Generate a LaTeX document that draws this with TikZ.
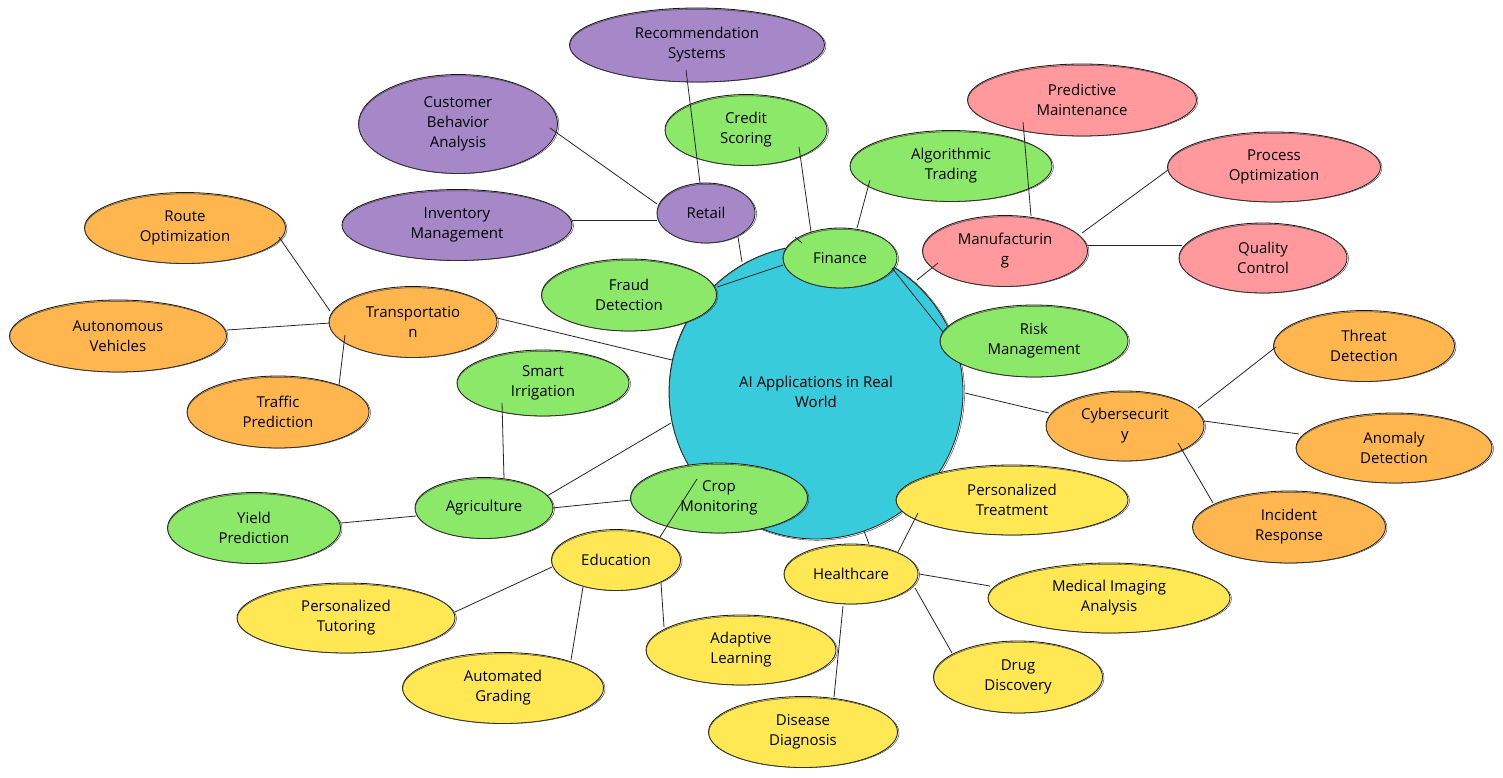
\documentclass[tikz,border=0pt]{standalone}
\usepackage{fontspec}
\setmainfont{Open Sans}
\usetikzlibrary{calc,shapes.geometric}
\definecolor{cpur}{RGB}{166,136,201}
\definecolor{cgre}{RGB}{140,232,104}
\definecolor{cpin}{RGB}{255,153,158}
\definecolor{cora}{RGB}{255,182,78}
\definecolor{cyel}{RGB}{255,232,84}
\definecolor{ccya}{RGB}{55,203,219}
\newcommand\mnode[7]{%
  \node[nd, fill=#6, minimum width=#4pt, minimum height=#5pt] (#1) at (#2,#3) {#7};
  \draw[sk] ([shift={(0.9,0.7)}]#1.center) ellipse [x radius={#4*0.5pt+0.6pt}, y radius={#5*0.5pt-0.6pt}];}
\begin{document}
\begin{tikzpicture}[x=1pt,y=-1pt,
  nd/.style={ellipse, draw=black!90, line width=0.8pt, inner sep=0pt, align=center,
             font=\fontsize{15}{20}\selectfont},
  sk/.style={draw=black!75, line width=0.45pt},
  ed/.style={draw=black!85, line width=0.8pt}]
\useasboundingbox[fill=white] (0,0) rectangle (1503,778);
% central node
\node[nd, circle, fill=ccya, minimum size=294pt] (c) at (816,392) {AI Applications in Real\\World};
\draw[sk] ([shift={(0.9,0.7)}]c.center) circle [radius=147.6pt];
% Retail
\mnode{retail}{706}{213}{98}{60}{cpur}{Retail}
\mnode{rec}{697}{45}{255}{74}{cpur}{Recommendation\\Systems}
\mnode{cust}{458}{124}{199}{99}{cpur}{Customer\\Behavior\\Analysis}
\mnode{inv}{457}{225}{230}{71}{cpur}{Inventory\\Management}
% Finance
\mnode{credit}{746}{130}{162}{71}{cgre}{Credit\\Scoring}
\mnode{algo}{951}{166}{202}{71}{cgre}{Algorithmic\\Trading}
\mnode{fraud}{629}{295}{175}{72}{cgre}{Fraud\\Detection}
\mnode{risk}{1034}{341}{188}{72}{cgre}{Risk\\Management}
\mnode{fin}{840}{258}{114}{60}{cgre}{Finance}
% Manufacturing
\mnode{manu}{1005}{251}{165}{71}{cpin}{Manufacturin\\g}
\mnode{pred}{1082}{100}{229}{72}{cpin}{Predictive\\Maintenance}
\mnode{proc}{1274}{167}{213}{70}{cpin}{Process\\Optimization}
\mnode{qual}{1263}{258}{168}{70}{cpin}{Quality\\Control}
% Transportation
\mnode{trans}{413}{322}{168}{71}{cora}{Transportatio\\n}
\mnode{route}{185}{228}{201}{71}{cora}{Route\\Optimization}
\mnode{auto}{118}{336}{217}{72}{cora}{Autonomous\\Vehicles}
\mnode{traffic}{278}{412}{182}{72}{cora}{Traffic\\Prediction}
% Cybersecurity
\mnode{cyber}{1125}{426}{158}{70}{cora}{Cybersecurit\\y}
\mnode{threat}{1364}{346}{181}{71}{cora}{Threat\\Detection}
\mnode{anom}{1394}{448}{196}{70}{cora}{Anomaly\\Detection}
\mnode{incid}{1289}{527}{193}{72}{cora}{Incident\\Response}
% Agriculture
\mnode{smart}{543}{383}{172}{66}{cgre}{Smart\\Irrigation}
\mnode{agri}{484}{508}{138}{61}{cgre}{Agriculture}
\mnode{crop}{719}{498}{177}{70}{cgre}{Crop\\Monitoring}
\mnode{yield}{254}{528}{173}{71}{cgre}{Yield\\Prediction}
% Education
\mnode{edu}{616}{560}{129}{61}{cyel}{Education}
\mnode{tutor}{346}{618}{218}{70}{cyel}{Personalized\\Tutoring}
\mnode{grade}{503}{688}{201}{71}{cyel}{Automated\\Grading}
\mnode{adapt}{741}{650}{190}{70}{cyel}{Adaptive\\Learning}
% Healthcare
\mnode{treat}{1012}{500}{232}{70}{cyel}{Personalized\\Treatment}
\mnode{health}{851}{574}{134}{60}{cyel}{Healthcare}
\mnode{med}{1109}{598}{242}{70}{cyel}{Medical Imaging\\Analysis}
\mnode{drug}{1018}{677}{169}{72}{cyel}{Drug\\Discovery}
\mnode{dis}{803}{732}{189}{71}{cyel}{Disease\\Diagnosis}
% connectors
\draw[ed] ($(rec)+(-11,25)$) -- ($(retail)+(-6,-30)$);
\draw[ed] ($(cust)+(92,4)$) -- ($(retail)+(-49,-9)$);
\draw[ed] ($(inv)+(115,-5)$) -- ($(retail)+(-49,7)$);
\draw[ed] ($(retail)+(32,24)$) -- ($(c)+(-74,-130)$);
\draw[ed] ($(credit)+(53,17)$) -- ($(fin)+(-29,-26)$);
\draw[ed] ($(algo)+(-81,14)$) -- ($(fin)+(17,-30)$);
\draw[ed] ($(fraud)+(88,-8)$) -- ($(fin)+(-57,7)$);
\draw[ed] ($(fin)+(52,10)$) -- ($(risk)+(-91,-9)$);
\draw[ed] ($(c)+(-21,-155)$) -- ($(fin)+(-38,-15)$);
\draw[ed] ($(manu)+(-67,12)$) -- ($(c)+(101,-112)$);
\draw[ed] ($(trans)+(84,-4)$) -- ($(c)+(-144,-32)$);
\draw[ed] ($(pred)+(-59,22)$) -- ($(manu)+(26,-35)$);
\draw[ed] ($(manu)+(77,-18)$) -- ($(proc)+(-106,3)$);
\draw[ed] ($(manu)+(83,-6)$) -- ($(qual)+(-81,-13)$);
\draw[ed] ($(route)+(94,9)$) -- ($(trans)+(-83,-11)$);
\draw[ed] ($(auto)+(109,-6)$) -- ($(trans)+(-83,1)$);
\draw[ed] ($(trans)+(-68,13)$) -- ($(traffic)+(61,-27)$);
\draw[ed] ($(cyber)+(-76,-13)$) -- ($(c)+(149,1)$);
\draw[ed] ($(cyber)+(73,-18)$) -- ($(threat)+(-88,1)$);
\draw[ed] ($(cyber)+(79,-5)$) -- ($(anom)+(-95,-14)$);
\draw[ed] ($(cyber)+(53,17)$) -- ($(incid)+(-76,-24)$);
\draw[ed] ($(smart)+(-41,20)$) -- ($(agri)+(20,-29)$);
\draw[ed] ($(agri)+(63,-12)$) -- ($(c)+(-145,31)$);
\draw[ed] ($(agri)+(68,0)$) -- ($(crop)+(-88,2)$);
\draw[ed] ($(yield)+(87,-5)$) -- ($(agri)+(-68,8)$);
\draw[ed] ($(edu)+(44,-23)$) -- ($(c)+(-119,87)$);
\draw[ed] ($(tutor)+(109,-6)$) -- ($(edu)+(-64,7)$);
\draw[ed] ($(edu)+(-33,27)$) -- ($(grade)+(68,-28)$);
\draw[ed] ($(edu)+(45,23)$) -- ($(adapt)+(-77,-23)$);
\draw[ed] ($(health)+(18,-30)$) -- ($(c)+(48,139)$);
\draw[ed] ($(health)+(47,-22)$) -- ($(treat)+(-94,13)$);
\draw[ed] ($(health)+(68,0)$) -- ($(med)+(-119,-12)$);
\draw[ed] ($(health)+(64,14)$) -- ($(drug)+(-66,-24)$);
\draw[ed] ($(health)+(-8,32)$) -- ($(dis)+(31,-35)$);
\end{tikzpicture}
\end{document}
